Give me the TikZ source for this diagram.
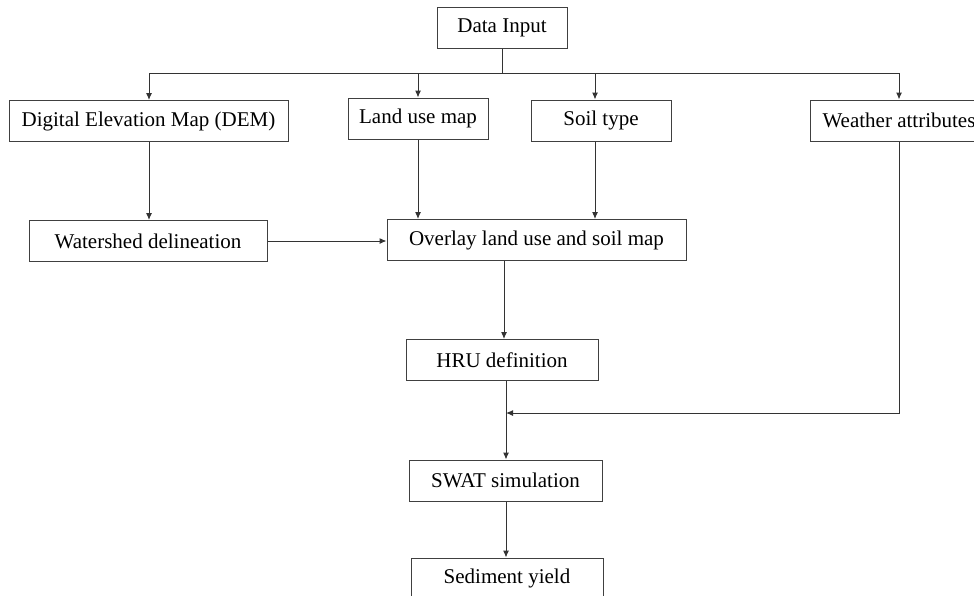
\documentclass[tikz,border=0pt]{standalone}
\usepackage{fontspec}
\setmainfont{Liberation Serif}
\usetikzlibrary{positioning,arrows.meta}

\begin{document}
\begin{tikzpicture}[x=1pt, y=-1pt,
  every node/.style={font=\fontsize{21}{24}\selectfont},
  stepbox/.style={draw=black!75, line width=1pt, inner sep=0pt, minimum height=41pt},
  arr/.style={draw=black!80, line width=1pt, -{Latex[length=7pt,width=6pt]}},
  ln/.style={draw=black!80, line width=1pt}]
  \useasboundingbox (0,0) rectangle (974,595);

  %----- boxes (center, width) -----
  \node[stepbox, minimum width=130pt] (inp)  at (502,27.5)  {Data Input};
  \node[stepbox, minimum width=279pt] (dem)  at (148.5,121) {Digital Elevation Map (DEM)};
  \node[stepbox, minimum width=140pt] (lum)  at (418,118.5) {Land use map};
  \node[stepbox, minimum width=140pt] (soil) at (601,120.5) {Soil type};
  \node[stepbox, minimum width=178pt] (wth)  at (899,120.5) {Weather attributes};
  \node[stepbox, minimum width=238pt] (wsd)  at (148,241)   {Watershed delineation};
  \node[stepbox, minimum width=299pt] (ovl)  at (536.5,240) {Overlay land use and soil map};
  \node[stepbox, minimum width=192pt] (hru)  at (502,360)   {HRU definition};
  \node[stepbox, minimum width=193pt] (swat) at (505.5,480.5) {SWAT simulation};
  \node[stepbox, minimum width=192pt] (sed)  at (507,578.5) {Sediment yield};

  %----- branch from Data Input -----
  \coordinate (bdem)  at (149,73);
  \coordinate (blum)  at (418,73);
  \coordinate (bsoil) at (595,73);
  \coordinate (bwth)  at (899,73);
  \draw[ln] (inp.south) -- (inp.south |- bdem);
  \draw[ln] (bdem) -- (bwth);
  \draw[arr] (bdem) -- (bdem |- dem.north);
  \draw[arr] (blum) -- (blum |- lum.north);
  \draw[arr] (bsoil) -- (bsoil |- soil.north);
  \draw[arr] (bwth) -- (bwth |- wth.north);

  %----- to overlay -----
  \draw[arr] (bdem |- dem.south) -- (bdem |- wsd.north);
  \draw[arr] (blum |- lum.south) -- (blum |- ovl.north);
  \draw[arr] (bsoil |- soil.south) -- (bsoil |- ovl.north);
  \draw[arr] (wsd.east) -- (ovl.west |- wsd.east);

  %----- down the chain -----
  \coordinate (mid) at (506,413);
  \draw[arr] (504,0 |- ovl.south) -- (504,0 |- hru.north);
  \draw[arr] (mid |- hru.south) -- (mid |- swat.north);
  \draw[arr] (wth.south) -- (wth.south |- mid) -- (mid);
  \draw[arr] (mid |- swat.south) -- (mid |- sed.north);
\end{tikzpicture}
\end{document}
